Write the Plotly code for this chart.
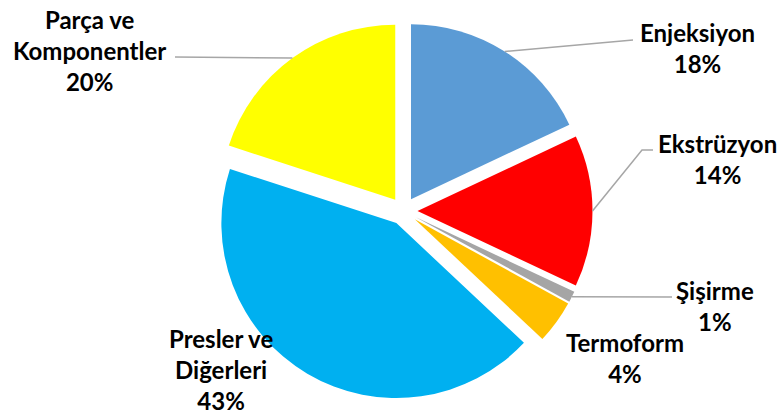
import math
import plotly.graph_objects as go

# ---- data ----
categories = ["Enjeksiyon", "Ekstrüzyon", "Şişirme", "Termoform", "Presler ve Diğerleri", "Parça ve Komponentler"]
label_lines = ["Enjeksiyon", "Ekstrüzyon", "Şişirme", "Termoform", "Presler ve<br>Diğerleri", "Parça ve<br>Komponentler"]
values = [18, 14, 1, 4, 43, 20]
colors = ["#5B9BD5", "#FF0000", "#A5A5A5", "#FFC000", "#00B0F0", "#FFFF00"]

W, H = 778, 417
PULL = 0.08
CX, CY = 403.5, 211.0   # pie centre (px)
R = 175.0               # pie radius (px)
HALF = R * (1 + PULL)

def px(x):
    return x / W

def py(y):
    return 1 - y / H

fig = go.Figure(go.Pie(
    labels=categories,
    values=values,
    sort=False,
    direction="clockwise",
    rotation=0,
    pull=[PULL] * len(values),
    marker=dict(colors=colors, line=dict(width=0)),
    textinfo="none",
    hoverinfo="label+percent",
    showlegend=False,
    domain=dict(x=[px(CX - HALF), px(CX + HALF)], y=[py(CY + HALF), py(CY - HALF)]),
))

# slice-edge points from data
total = sum(values)
edges = []
cum = 0
for v in values:
    mid = (cum + v / 2) / total * 2 * math.pi
    dx, dy = math.sin(mid), -math.cos(mid)
    ax = CX + R * PULL * dx
    ay = CY + R * PULL * dy
    edges.append((ax + R * dx, ay + R * dy))
    cum += v

# label placements (px): centre x, centre y
label_pos = {
    0: (697, 48.5),
    1: (717, 159),
    2: (715, 306),
    3: (625, 357.5),
    4: (221, 369),
    5: (89, 50),
}
# leader line outer points (px)
leaders = {
    0: [(633, 40)],
    1: [(642, 150), (653, 150)],
    2: [(672, 297)],
    5: [(175, 57)],
}

pcts = [round(v / total * 100) for v in values]
annotations = []
for i, (x, y) in label_pos.items():
    annotations.append(dict(
        x=px(x), y=py(y), xref="paper", yref="paper",
        text=f"<b>{label_lines[i]}<br>{pcts[i]}%</b>",
        showarrow=False, xanchor="center", yanchor="middle", align="center",
        font=dict(family="Lato", size=24, color="#000000"),
    ))

shapes = []
for i, pts in leaders.items():
    ex, ey = edges[i]
    path = f"M{px(ex)},{py(ey)}"
    for (x, y) in pts:
        path += f" L{px(x)},{py(y)}"
    shapes.append(dict(type="path", xref="paper", yref="paper", path=path,
                       line=dict(color="#A6A6A6", width=1.5)))

fig.update_layout(
    width=W, height=H,
    margin=dict(l=0, r=0, t=0, b=0),
    paper_bgcolor="white", plot_bgcolor="white",
    annotations=annotations, shapes=shapes,
)

fig.write_html("out.html", config={"displayModeBar": False},
               post_script="document.body.style.margin='0';document.body.style.overflow='hidden';")
